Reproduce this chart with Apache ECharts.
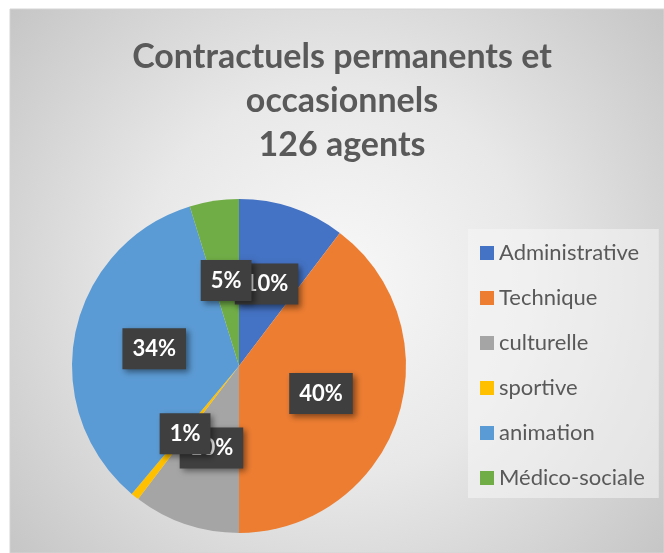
<!DOCTYPE html>
<html>
<head>
<meta charset="utf-8">
<script src="https://cdn.jsdelivr.net/npm/echarts@6/dist/echarts.min.js"></script>
<style>
html,body{margin:0;padding:0;background:#fff;}
#chart{width:664px;height:553px;}
</style>
</head>
<body>
<div id="chart"></div>
<script>
// Data
var titleLines = ['Contractuels permanents et', 'occasionnels', '126 agents'];
var categories = ['Administrative', 'Technique', 'culturelle', 'sportive', 'animation', 'Médico-sociale'];
var values = [13, 50, 13, 1, 43, 6];
var colors = ['#4472C4', '#ED7D31', '#A5A5A5', '#FFC000', '#5B9BD5', '#70AD47'];

var total = values.reduce(function (a, b) { return a + b; }, 0);
var seriesData = categories.map(function (c, i) {
  return { name: c, value: values[i], itemStyle: { color: colors[i] } };
});

var chart = echarts.init(document.getElementById('chart'), null, { renderer: 'canvas' });
chart.setOption({
  animation: false,
  backgroundColor: '#ffffff',
  graphic: [
    {
      type: 'rect', z: -10, silent: true,
      shape: { x: 10, y: 9, width: 654, height: 544 },
      style: {
        fill: {
          type: 'radial', x: 0.5, y: 0.5, r: 0.8,
          colorStops: [
            { offset: 0, color: '#f8f8f8' },
            { offset: 0.45, color: '#e8e8e8' },
            { offset: 1, color: '#c4c4c4' }
          ]
        },
        stroke: '#d4d4d4', lineWidth: 1
      }
    },
    {
      type: 'text', z: 10, silent: true,
      style: {
        text: titleLines.join('\n'),
        x: 342, y: 35,
        textAlign: 'center', textVerticalAlign: 'top',
        font: 'bold 34px Lato',
        lineHeight: 44,
        fill: '#595959'
      }
    }
  ],
  legend: {
    orient: 'vertical',
    left: 468, top: 229,
    padding: [13, 14, 9, 12],
    backgroundColor: 'rgba(246,246,246,0.55)',
    itemWidth: 14, itemHeight: 14, itemGap: 23,
    icon: 'rect',
    textStyle: { fontFamily: 'Lato', fontSize: 22, color: '#595959', lineHeight: 20 },
    data: categories
  },
  series: [{
    type: 'pie',
    center: [239, 366],
    radius: 167,
    startAngle: 90,
    clockwise: true,
    avoidLabelOverlap: false,
    minShowLabelAngle: 0,
    labelLayout: { hideOverlap: false },
    itemStyle: { borderWidth: 0 },
    emphasis: { disabled: true },
    label: {
      show: true,
      position: 'inside',
      formatter: function (p) { return Math.round(p.value / total * 100) + '%'; },
      color: '#ffffff',
      fontFamily: 'Lato',
      fontWeight: 'bold',
      fontSize: 22,
      lineHeight: 22,
      backgroundColor: '#3f3f3f',
      padding: [10, 10, 9, 10],
      shadowColor: 'rgba(0,0,0,0.45)',
      shadowBlur: 6,
      shadowOffsetX: 3,
      shadowOffsetY: 3
    },
    labelLine: { show: false },
    data: seriesData
  }]
});
</script>
</body>
</html>
